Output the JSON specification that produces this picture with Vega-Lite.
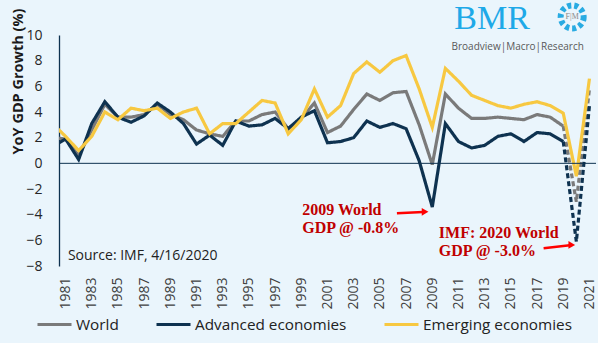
{
  "$schema": "https://vega.github.io/schema/vega-lite/v6.json",
  "width": 537,
  "height": 231,
  "autosize": {"type": "none"},
  "padding": {"left": 59, "top": 35, "right": 2, "bottom": 77},
  "background": "#eaf5fc",
  "config": {
    "view": {"stroke": null},
    "font": "Open Sans",
    "axisX": {
      "labelAngle": -90, "grid": false, "domain": false, "ticks": false,
      "labelPadding": 11, "labelFontSize": 14, "labelColor": "#404040",
      "labelOverlap": false, "labelFlush": false, "labelFont": "Open Sans", "tickCount": 50
    },
    "axisY": {
      "grid": false, "ticks": false, "domainColor": "#0e3250", "domainWidth": 1.3,
      "labelPadding": 17, "labelFontSize": 14, "labelColor": "#262626", "labelFont": "Open Sans",
      "labelOverlap": false, "labelFlush": false, "tickCount": 20,
      "titleFontSize": 14.5, "titleFontWeight": "bold", "titleColor": "#1a1a1a"
    }
  },
  "datasets": {
    "gdp": [
      {"series": "World", "part": "actual", "year": 1980, "value": 2.0},
      {"series": "World", "part": "actual", "year": 1981, "value": 1.9},
      {"series": "World", "part": "actual", "year": 1982, "value": 0.6},
      {"series": "World", "part": "actual", "year": 1983, "value": 2.6},
      {"series": "World", "part": "actual", "year": 1984, "value": 4.6},
      {"series": "World", "part": "actual", "year": 1985, "value": 3.6},
      {"series": "World", "part": "actual", "year": 1986, "value": 3.6},
      {"series": "World", "part": "actual", "year": 1987, "value": 3.8},
      {"series": "World", "part": "actual", "year": 1988, "value": 4.6},
      {"series": "World", "part": "actual", "year": 1989, "value": 3.8},
      {"series": "World", "part": "actual", "year": 1990, "value": 3.4},
      {"series": "World", "part": "actual", "year": 1991, "value": 2.6},
      {"series": "World", "part": "actual", "year": 1992, "value": 2.3},
      {"series": "World", "part": "actual", "year": 1993, "value": 2.1},
      {"series": "World", "part": "actual", "year": 1994, "value": 3.3},
      {"series": "World", "part": "actual", "year": 1995, "value": 3.3},
      {"series": "World", "part": "actual", "year": 1996, "value": 3.8},
      {"series": "World", "part": "actual", "year": 1997, "value": 4.0},
      {"series": "World", "part": "actual", "year": 1998, "value": 2.7},
      {"series": "World", "part": "actual", "year": 1999, "value": 3.5},
      {"series": "World", "part": "actual", "year": 2000, "value": 4.7},
      {"series": "World", "part": "actual", "year": 2001, "value": 2.4},
      {"series": "World", "part": "actual", "year": 2002, "value": 2.9},
      {"series": "World", "part": "actual", "year": 2003, "value": 4.2},
      {"series": "World", "part": "actual", "year": 2004, "value": 5.4},
      {"series": "World", "part": "actual", "year": 2005, "value": 4.9},
      {"series": "World", "part": "actual", "year": 2006, "value": 5.5},
      {"series": "World", "part": "actual", "year": 2007, "value": 5.6},
      {"series": "World", "part": "actual", "year": 2008, "value": 3.0},
      {"series": "World", "part": "actual", "year": 2009, "value": -0.1},
      {"series": "World", "part": "actual", "year": 2010, "value": 5.4},
      {"series": "World", "part": "actual", "year": 2011, "value": 4.3},
      {"series": "World", "part": "actual", "year": 2012, "value": 3.5},
      {"series": "World", "part": "actual", "year": 2013, "value": 3.5},
      {"series": "World", "part": "actual", "year": 2014, "value": 3.6},
      {"series": "World", "part": "actual", "year": 2015, "value": 3.5},
      {"series": "World", "part": "actual", "year": 2016, "value": 3.4},
      {"series": "World", "part": "actual", "year": 2017, "value": 3.8},
      {"series": "World", "part": "actual", "year": 2018, "value": 3.6},
      {"series": "World", "part": "actual", "year": 2019, "value": 2.9},
      {"series": "World", "part": "forecast", "year": 2019, "value": 2.9},
      {"series": "World", "part": "forecast", "year": 2020, "value": -3.0},
      {"series": "World", "part": "forecast", "year": 2021, "value": 5.8},
      {"series": "Advanced economies", "part": "actual", "year": 1980, "value": 1.3},
      {"series": "Advanced economies", "part": "actual", "year": 1981, "value": 1.9},
      {"series": "Advanced economies", "part": "actual", "year": 1982, "value": 0.3},
      {"series": "Advanced economies", "part": "actual", "year": 1983, "value": 3.1},
      {"series": "Advanced economies", "part": "actual", "year": 1984, "value": 4.8},
      {"series": "Advanced economies", "part": "actual", "year": 1985, "value": 3.6},
      {"series": "Advanced economies", "part": "actual", "year": 1986, "value": 3.2},
      {"series": "Advanced economies", "part": "actual", "year": 1987, "value": 3.7},
      {"series": "Advanced economies", "part": "actual", "year": 1988, "value": 4.7},
      {"series": "Advanced economies", "part": "actual", "year": 1989, "value": 4.0},
      {"series": "Advanced economies", "part": "actual", "year": 1990, "value": 3.1},
      {"series": "Advanced economies", "part": "actual", "year": 1991, "value": 1.5},
      {"series": "Advanced economies", "part": "actual", "year": 1992, "value": 2.2},
      {"series": "Advanced economies", "part": "actual", "year": 1993, "value": 1.4},
      {"series": "Advanced economies", "part": "actual", "year": 1994, "value": 3.3},
      {"series": "Advanced economies", "part": "actual", "year": 1995, "value": 2.9},
      {"series": "Advanced economies", "part": "actual", "year": 1996, "value": 3.0},
      {"series": "Advanced economies", "part": "actual", "year": 1997, "value": 3.5},
      {"series": "Advanced economies", "part": "actual", "year": 1998, "value": 2.7},
      {"series": "Advanced economies", "part": "actual", "year": 1999, "value": 3.6},
      {"series": "Advanced economies", "part": "actual", "year": 2000, "value": 4.1},
      {"series": "Advanced economies", "part": "actual", "year": 2001, "value": 1.6},
      {"series": "Advanced economies", "part": "actual", "year": 2002, "value": 1.7},
      {"series": "Advanced economies", "part": "actual", "year": 2003, "value": 2.0},
      {"series": "Advanced economies", "part": "actual", "year": 2004, "value": 3.3},
      {"series": "Advanced economies", "part": "actual", "year": 2005, "value": 2.8},
      {"series": "Advanced economies", "part": "actual", "year": 2006, "value": 3.1},
      {"series": "Advanced economies", "part": "actual", "year": 2007, "value": 2.7},
      {"series": "Advanced economies", "part": "actual", "year": 2008, "value": 0.2},
      {"series": "Advanced economies", "part": "actual", "year": 2009, "value": -3.4},
      {"series": "Advanced economies", "part": "actual", "year": 2010, "value": 3.1},
      {"series": "Advanced economies", "part": "actual", "year": 2011, "value": 1.7},
      {"series": "Advanced economies", "part": "actual", "year": 2012, "value": 1.2},
      {"series": "Advanced economies", "part": "actual", "year": 2013, "value": 1.4},
      {"series": "Advanced economies", "part": "actual", "year": 2014, "value": 2.1},
      {"series": "Advanced economies", "part": "actual", "year": 2015, "value": 2.3},
      {"series": "Advanced economies", "part": "actual", "year": 2016, "value": 1.7},
      {"series": "Advanced economies", "part": "actual", "year": 2017, "value": 2.4},
      {"series": "Advanced economies", "part": "actual", "year": 2018, "value": 2.3},
      {"series": "Advanced economies", "part": "actual", "year": 2019, "value": 1.7},
      {"series": "Advanced economies", "part": "forecast", "year": 2019, "value": 1.7},
      {"series": "Advanced economies", "part": "forecast", "year": 2020, "value": -6.1},
      {"series": "Advanced economies", "part": "forecast", "year": 2021, "value": 4.5},
      {"series": "Emerging economies", "part": "actual", "year": 1980, "value": 3.1},
      {"series": "Emerging economies", "part": "actual", "year": 1981, "value": 2.1},
      {"series": "Emerging economies", "part": "actual", "year": 1982, "value": 1.0},
      {"series": "Emerging economies", "part": "actual", "year": 1983, "value": 2.1},
      {"series": "Emerging economies", "part": "actual", "year": 1984, "value": 4.0},
      {"series": "Emerging economies", "part": "actual", "year": 1985, "value": 3.4},
      {"series": "Emerging economies", "part": "actual", "year": 1986, "value": 4.3},
      {"series": "Emerging economies", "part": "actual", "year": 1987, "value": 4.1},
      {"series": "Emerging economies", "part": "actual", "year": 1988, "value": 4.3},
      {"series": "Emerging economies", "part": "actual", "year": 1989, "value": 3.5},
      {"series": "Emerging economies", "part": "actual", "year": 1990, "value": 4.0},
      {"series": "Emerging economies", "part": "actual", "year": 1991, "value": 4.3},
      {"series": "Emerging economies", "part": "actual", "year": 1992, "value": 2.3},
      {"series": "Emerging economies", "part": "actual", "year": 1993, "value": 3.1},
      {"series": "Emerging economies", "part": "actual", "year": 1994, "value": 3.1},
      {"series": "Emerging economies", "part": "actual", "year": 1995, "value": 4.0},
      {"series": "Emerging economies", "part": "actual", "year": 1996, "value": 4.9},
      {"series": "Emerging economies", "part": "actual", "year": 1997, "value": 4.7},
      {"series": "Emerging economies", "part": "actual", "year": 1998, "value": 2.3},
      {"series": "Emerging economies", "part": "actual", "year": 1999, "value": 3.4},
      {"series": "Emerging economies", "part": "actual", "year": 2000, "value": 5.8},
      {"series": "Emerging economies", "part": "actual", "year": 2001, "value": 3.6},
      {"series": "Emerging economies", "part": "actual", "year": 2002, "value": 4.5},
      {"series": "Emerging economies", "part": "actual", "year": 2003, "value": 7.0},
      {"series": "Emerging economies", "part": "actual", "year": 2004, "value": 7.9},
      {"series": "Emerging economies", "part": "actual", "year": 2005, "value": 7.1},
      {"series": "Emerging economies", "part": "actual", "year": 2006, "value": 8.0},
      {"series": "Emerging economies", "part": "actual", "year": 2007, "value": 8.4},
      {"series": "Emerging economies", "part": "actual", "year": 2008, "value": 5.8},
      {"series": "Emerging economies", "part": "actual", "year": 2009, "value": 2.8},
      {"series": "Emerging economies", "part": "actual", "year": 2010, "value": 7.4},
      {"series": "Emerging economies", "part": "actual", "year": 2011, "value": 6.4},
      {"series": "Emerging economies", "part": "actual", "year": 2012, "value": 5.3},
      {"series": "Emerging economies", "part": "actual", "year": 2013, "value": 4.9},
      {"series": "Emerging economies", "part": "actual", "year": 2014, "value": 4.5},
      {"series": "Emerging economies", "part": "actual", "year": 2015, "value": 4.3},
      {"series": "Emerging economies", "part": "actual", "year": 2016, "value": 4.6},
      {"series": "Emerging economies", "part": "actual", "year": 2017, "value": 4.8},
      {"series": "Emerging economies", "part": "actual", "year": 2018, "value": 4.5},
      {"series": "Emerging economies", "part": "actual", "year": 2019, "value": 3.9},
      {"series": "Emerging economies", "part": "actual", "year": 2020, "value": -1.0},
      {"series": "Emerging economies", "part": "actual", "year": 2021, "value": 6.6}
    ],
    "notes": [
      {"label": "2009 World", "year": 1999.07, "value": -3.63},
      {"label": "GDP @ -0.8%", "year": 1999.07, "value": -5.06},
      {"label": "IMF: 2020 World", "year": 2009.5, "value": -5.45},
      {"label": "GDP @ -3.0%", "year": 2009.5, "value": -6.8}
    ],
    "arrows": [
      {"x1": 2006.3, "y1": -3.89, "x2": 2008.3, "y2": -3.79, "xh": 2008.45, "yh": -3.78},
      {"x1": 2017.5, "y1": -6.61, "x2": 2019.5, "y2": -6.38, "xh": 2019.65, "yh": -6.36}
    ]
  },
  "layer": [
    {
      "data": {"name": "gdp"},
      "mark": {"type": "line", "strokeWidth": 3.2, "clip": true, "strokeJoin": "miter"},
      "encoding": {
        "x": {
          "field": "year", "type": "quantitative",
          "scale": {"domain": [1980.5, 2021.5], "nice": false, "zero": false},
          "axis": {
            "values": [1981, 1983, 1985, 1987, 1989, 1991, 1993, 1995, 1997, 1999, 2001, 2003, 2005, 2007, 2009, 2011, 2013, 2015, 2017, 2019, 2021],
            "format": "d", "title": null, "tickCount": 50
          }
        },
        "y": {
          "field": "value", "type": "quantitative",
          "scale": {"domain": [-8, 10], "nice": false},
          "axis": {
            "values": [-8, -6, -4, -2, 0, 2, 4, 6, 8, 10], "tickCount": 20,
            "title": "YoY GDP Growth (%)", "titleX": -41, "titleY": 46, "titleAlign": "center",
            "titleBaseline": "middle", "titleAngle": 270
          }
        },
        "color": {
          "field": "series", "type": "nominal",
          "scale": {"domain": ["World", "Advanced economies", "Emerging economies"], "range": ["#7a7a7a", "#0e3250", "#f7c841"]},
          "legend": {
            "title": null, "orient": "none", "legendX": -23, "legendY": 271, "direction": "horizontal",
            "symbolType": "stroke", "symbolSize": 1156, "symbolStrokeWidth": 3,
            "labelFontSize": 15.3, "labelColor": "#222222", "labelOffset": 3, "columnPadding": 31,
            "labelLimit": 300
          }
        },
        "strokeDash": {
          "field": "part", "type": "nominal",
          "scale": {"domain": ["actual", "forecast"], "range": [[1, 0], [5, 3]]},
          "legend": null
        }
      }
    },
    {
      "data": {"values": [{"base": 0}]},
      "mark": {"type": "rule", "color": "#0e3250", "strokeWidth": 1},
      "encoding": {"y": {"field": "base", "type": "quantitative"}}
    },
    {
      "data": {"name": "notes"},
      "mark": {"type": "text", "font": "Liberation Serif", "fontWeight": "bold", "fontSize": 16, "color": "#c00000", "align": "left", "baseline": "middle"},
      "encoding": {
        "x": {"field": "year", "type": "quantitative"},
        "y": {"field": "value", "type": "quantitative"},
        "text": {"field": "label"}
      }
    },
    {
      "data": {"name": "arrows"},
      "mark": {"type": "rule", "color": "#ff0000", "strokeWidth": 2.5},
      "encoding": {
        "x": {"field": "x1", "type": "quantitative"},
        "x2": {"field": "x2"},
        "y": {"field": "y1", "type": "quantitative"},
        "y2": {"field": "y2"}
      }
    },
    {
      "data": {"name": "arrows"},
      "mark": {"type": "point", "shape": "triangle-right", "size": 60, "filled": true, "color": "#ff0000", "opacity": 1},
      "encoding": {
        "x": {"field": "xh", "type": "quantitative"},
        "y": {"field": "yh", "type": "quantitative"}
      }
    },
    {
      "data": {"values": [{"label": "Source: IMF, 4/16/2020", "year": 1981.18, "value": -7.21}]},
      "mark": {"type": "text", "fontSize": 14, "color": "#222222", "align": "left", "baseline": "middle"},
      "encoding": {
        "x": {"field": "year", "type": "quantitative"},
        "y": {"field": "value", "type": "quantitative"},
        "text": {"field": "label"}
      }
    },
    {
      "data": {"values": [{"label": "BMR", "year": 2013.57, "value": 10.5}]},
      "mark": {"type": "text", "font": "Liberation Serif", "fontSize": 34, "color": "#1ea9e8", "align": "center", "baseline": "alphabetic"},
      "encoding": {
        "x": {"field": "year", "type": "quantitative"},
        "y": {"field": "value", "type": "quantitative"},
        "text": {"field": "label"}
      }
    },
    {
      "data": {"values": [{"label": "Broadview|Macro|Research", "year": 2010.47, "value": 9.05}]},
      "mark": {"type": "text", "fontSize": 10, "color": "#595959", "align": "left", "baseline": "middle"},
      "encoding": {
        "x": {"field": "year", "type": "quantitative"},
        "y": {"field": "value", "type": "quantitative"},
        "text": {"field": "label"}
      }
    },
    {
      "data": {"values": [{"label": "F|M", "year": 2019.68, "value": 11.41}]},
      "mark": {"type": "point", "shape": "circle", "size": 530, "filled": false, "stroke": "#29abe2", "strokeWidth": 6, "strokeDash": [4, 3], "opacity": 1},
      "encoding": {
        "x": {"field": "year", "type": "quantitative"},
        "y": {"field": "value", "type": "quantitative"}
      }
    },
    {
      "data": {"values": [{"label": "F|M", "year": 2019.68, "value": 11.41}]},
      "mark": {"type": "text", "font": "Liberation Serif", "fontSize": 8, "color": "#8a8a8a", "align": "center", "baseline": "middle"},
      "encoding": {
        "x": {"field": "year", "type": "quantitative"},
        "y": {"field": "value", "type": "quantitative"},
        "text": {"field": "label"}
      }
    }
  ]
}
